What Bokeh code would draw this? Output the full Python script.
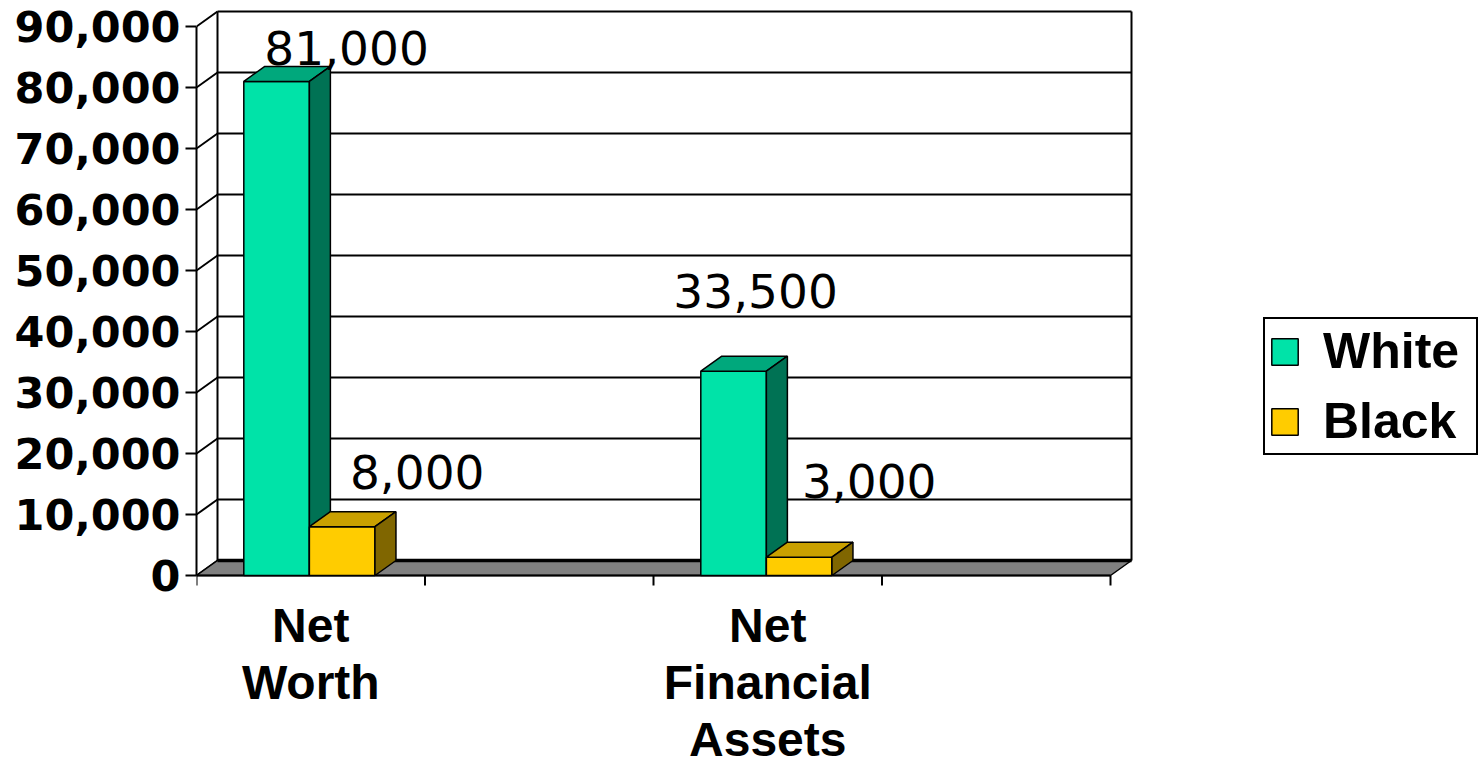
from bokeh.plotting import figure
from bokeh.models import (Range1d, LinearAxis, FixedTicker, NumeralTickFormatter,
                          Legend, LegendItem)
from bokeh.core.properties import value
from bokeh.embed import file_html
from bokeh.resources import INLINE

# ---- data -------------------------------------------------------------
categories = ["Net\nWorth", "Net\nFinancial\nAssets"]
category_slots = [0, 2]          # the category axis has four slots, two left empty
series_names = ["White", "Black"]
white_values = [81000, 33500]
black_values = [8000, 3000]
y_ticks = [0, 10000, 20000, 30000, 40000, 50000, 60000, 70000, 80000, 90000]

# ---- layout (pixels) ----------------------------------------------------
W, H = 1480, 767
FRAME_LEFT = 196                 # the value axis sits here
BASE_Y = 575                     # screen row of the front floor edge (value 0)
N_SLOTS = 4
SLOT_PX = 228.5                  # width of one category slot
UNIT_PX = 549 / 90000            # pixels per value unit
DEPTH_X_PX, DEPTH_Y_PX = 21, 15  # receding offset of the 3-D box
TICK_PX = 10
LINE_PX = 57                     # line pitch of the category labels
FIRST_LINE_PX = 50

x_end = (W - FRAME_LEFT) / SLOT_PX
y_start = -(H - BASE_Y) / UNIT_PX
y_end = BASE_Y / UNIT_PX
ddx = DEPTH_X_PX / SLOT_PX
ddy = DEPTH_Y_PX / UNIT_PX
y_max = y_ticks[-1]

p = figure(width=W, height=H, x_range=Range1d(0, x_end), y_range=Range1d(y_start, y_end),
           output_backend="svg", toolbar_location=None,
           x_axis_type=None, y_axis_type=None, min_border=0)
p.min_border_left = FRAME_LEFT
p.outline_line_color = None
p.background_fill_color = "white"
p.border_fill_color = "white"

# ---- walls and floor ------------------------------------------------------
n = len(y_ticks)
# side-wall gridlines running from the front axis to the back wall
p.segment(x0=[0] * n, y0=y_ticks, x1=[ddx] * n, y1=[t + ddy for t in y_ticks],
          line_color="black", line_width=2)
# back-wall gridlines
p.segment(x0=[ddx] * (n - 1), y0=[t + ddy for t in y_ticks[1:]],
          x1=[N_SLOTS + ddx] * (n - 1), y1=[t + ddy for t in y_ticks[1:]],
          line_color="black", line_width=2)
# back-wall side edges
p.segment(x0=[ddx, N_SLOTS + ddx], y0=[ddy, ddy], x1=[ddx, N_SLOTS + ddx],
          y1=[y_max + ddy, y_max + ddy], line_color="black", line_width=2)
# floor
p.patch([0, N_SLOTS, N_SLOTS + ddx, ddx], [0, 0, ddy, ddy],
        fill_color="#808080", line_color="black", line_width=1.5)
p.segment(x0=[ddx], y0=[ddy], x1=[N_SLOTS + ddx], y1=[ddy],
          line_color="black", line_width=3.5)

# ---- category axis ----------------------------------------------------------
tick_len = TICK_PX / UNIT_PX
p.segment(x0=[0], y0=[0], x1=[N_SLOTS], y1=[0], line_color="black", line_width=2)
p.segment(x0=list(range(N_SLOTS + 1)), y0=[0] * (N_SLOTS + 1),
          x1=list(range(N_SLOTS + 1)), y1=[-tick_len] * (N_SLOTS + 1),
          line_color="black", line_width=2)
for slot, cat in zip(category_slots, categories):
    for i, line in enumerate(cat.split("\n")):
        p.text(x=[slot + 0.5], y=[0], text=[line],
               y_offset=FIRST_LINE_PX + LINE_PX * i,
               text_align="center", text_baseline="alphabetic",
               text_font=value("Liberation Sans"), text_font_style="bold",
               text_font_size="48px", text_color="black")

# ---- bars -----------------------------------------------------------------
BAR_W = 0.287
series = [
    dict(name="White", values=white_values, offset=0.207,
         front="#00E3A8", top="#00A87C", side="#007254",
         label_dx=[70, 22], label_dy=[-33, -80]),
    dict(name="Black", values=black_values, offset=0.494,
         front="#FFCC00", top="#C9A000", side="#806600",
         label_dx=[75, 70], label_dy=[-55, -76]),
]

front_renderers = []
for s in series:
    lefts = [slot + s["offset"] for slot in category_slots]
    rights = [l + BAR_W for l in lefts]
    vals = s["values"]
    fr = p.quad(left=lefts, right=rights, top=vals, bottom=[0] * len(vals),
                fill_color=s["front"], line_color="black", line_width=1.5)
    front_renderers.append(fr)
    p.patches(xs=[[l, l + ddx, r + ddx, r] for l, r in zip(lefts, rights)],
              ys=[[v, v + ddy, v + ddy, v] for v in vals],
              fill_color=s["top"], line_color="black", line_width=1.5)
    p.patches(xs=[[r, r + ddx, r + ddx, r] for r in rights],
              ys=[[0, ddy, v + ddy, v] for v in vals],
              fill_color=s["side"], line_color="black", line_width=1.5)

for s in series:
    lefts = [slot + s["offset"] for slot in category_slots]
    for l, v, dx, dy in zip(lefts, s["values"], s["label_dx"], s["label_dy"]):
        p.text(x=[l + BAR_W / 2], y=[v], text=[f"{v:,}"],
               x_offset=dx, y_offset=dy,
               text_align="center", text_baseline="alphabetic",
               text_font=value("DejaVu Sans"), text_font_size="47px",
               text_color="black")

# ---- value axis -------------------------------------------------------------
yaxis = LinearAxis(bounds=(0, y_max), ticker=FixedTicker(ticks=y_ticks),
                   formatter=NumeralTickFormatter(format="0,0"))
yaxis.axis_line_width = 2
yaxis.major_tick_line_width = 2
yaxis.major_tick_out = 11
yaxis.major_tick_in = 0
yaxis.minor_tick_line_color = None
yaxis.major_label_standoff = 5
yaxis.major_label_text_font = "DejaVu Sans"
yaxis.major_label_text_font_style = "bold"
yaxis.major_label_text_font_size = "43px"
yaxis.major_label_text_color = "black"
p.add_layout(yaxis, "left")

# ---- legend -------------------------------------------------------------------
legend = Legend(items=[LegendItem(label=nm, renderers=[r])
                       for nm, r in zip(series_names, front_renderers)],
                location=(1263 - FRAME_LEFT, H - 455))
legend.border_line_color = "black"
legend.border_line_alpha = 1
legend.border_line_width = 2
legend.background_fill_color = "white"
legend.background_fill_alpha = 1
legend.glyph_width = 33
legend.glyph_height = 33
legend.label_text_font = "Liberation Sans"
legend.label_text_font_style = "bold"
legend.label_text_font_size = "50px"
legend.label_text_color = "black"
legend.label_standoff = 22
legend.label_width = 150
legend.padding = 3
legend.spacing = 12
legend.margin = 0
p.add_layout(legend)

open("out.html", "w").write(file_html(p, INLINE))
